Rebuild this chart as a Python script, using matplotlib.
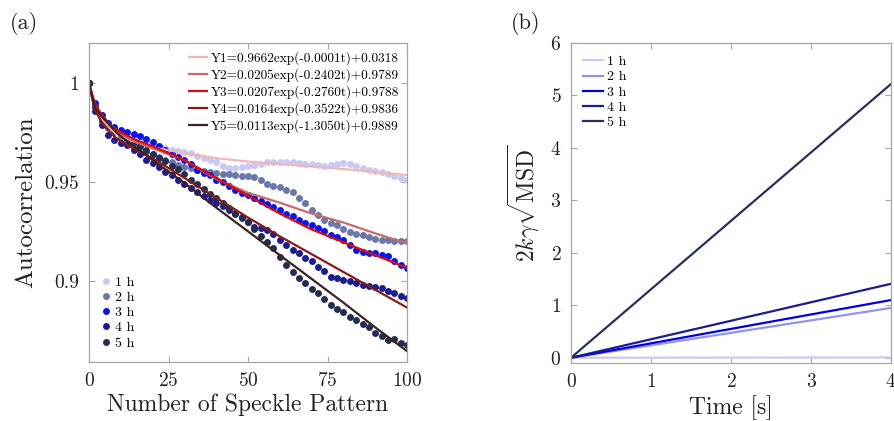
import matplotlib
matplotlib.use("Agg")
import matplotlib.pyplot as plt

# ---- data (a): autocorrelation vs number of speckle pattern ----
frames = list(range(0, 101, 2))

ac_1h = [1.0, 0.990, 0.984, 0.980, 0.977, 0.975, 0.973, 0.972, 0.970, 0.969,
         0.968, 0.9675, 0.967, 0.966, 0.9655, 0.965, 0.9645, 0.963, 0.962, 0.961,
         0.960, 0.958, 0.957, 0.957, 0.9575, 0.958, 0.9585, 0.959, 0.960, 0.960,
         0.9603, 0.960, 0.960, 0.9595, 0.959, 0.959, 0.9585, 0.958, 0.9585, 0.959,
         0.9595, 0.959, 0.958, 0.957, 0.956, 0.9555, 0.955, 0.954, 0.953, 0.952,
         0.951]
ac_2h = [1.0, 0.989, 0.982, 0.978, 0.975, 0.973, 0.971, 0.969, 0.967, 0.965,
         0.964, 0.9625, 0.961, 0.960, 0.9585, 0.9575, 0.957, 0.956, 0.9555, 0.955,
         0.9545, 0.954, 0.9538, 0.9535, 0.953, 0.953, 0.9525, 0.951, 0.949, 0.948,
         0.9475, 0.946, 0.945, 0.942, 0.9395, 0.936, 0.9335, 0.931, 0.9295, 0.928,
         0.926, 0.9245, 0.9235, 0.923, 0.922, 0.921, 0.9205, 0.9205, 0.920, 0.920,
         0.920]
ac_3h = [1.0, 0.990, 0.984, 0.980, 0.978, 0.9765, 0.975, 0.974, 0.973, 0.9715,
         0.970, 0.968, 0.966, 0.964, 0.9625, 0.961, 0.959, 0.956, 0.9545, 0.9535,
         0.951, 0.950, 0.948, 0.946, 0.9445, 0.9435, 0.942, 0.9405, 0.939, 0.9375,
         0.936, 0.934, 0.933, 0.931, 0.9295, 0.928, 0.9265, 0.925, 0.923, 0.922,
         0.9205, 0.918, 0.9155, 0.9148, 0.914, 0.914, 0.913, 0.9125, 0.910, 0.908,
         0.9067]
ac_4h = [1.0, 0.986, 0.979, 0.9737, 0.971, 0.9695, 0.9685, 0.966, 0.964, 0.961,
         0.9594, 0.9578, 0.955, 0.9535, 0.951, 0.949, 0.947, 0.9448, 0.943, 0.941,
         0.9395, 0.938, 0.936, 0.934, 0.9325, 0.930, 0.927, 0.9265, 0.9258, 0.9236,
         0.9207, 0.9182, 0.9155, 0.914, 0.9115, 0.9098, 0.9072, 0.905, 0.9022, 0.9014,
         0.9005, 0.8997, 0.899, 0.898, 0.8975, 0.897, 0.8963, 0.895, 0.8938, 0.8925,
         0.8916]
ac_5h = [1.0, 0.988, 0.981, 0.978, 0.976, 0.974, 0.972, 0.970, 0.968, 0.966,
         0.964, 0.962, 0.9605, 0.958, 0.9565, 0.954, 0.951, 0.949, 0.9465, 0.944,
         0.942, 0.9395, 0.937, 0.9345, 0.932, 0.930, 0.926, 0.9225, 0.9199, 0.9165,
         0.9123, 0.908, 0.9045, 0.9014, 0.8988, 0.8958, 0.894, 0.891, 0.8879, 0.886,
         0.8845, 0.8817, 0.880, 0.878, 0.8766, 0.8739, 0.8719, 0.8702, 0.8706, 0.8685,
         0.8677]

# fitted curves
fit_t = [0, 1, 2, 4, 6, 8, 10, 15, 20, 30, 40, 50, 60, 70, 80, 90, 100]
fit_1 = [1.0, 0.993, 0.988, 0.982, 0.978, 0.975, 0.973, 0.970, 0.9675, 0.9645,
         0.962, 0.9603, 0.959, 0.9578, 0.9565, 0.955, 0.9535]
fit_2 = [1.0, 0.994, 0.989, 0.983, 0.979, 0.976, 0.974, 0.970, 0.967, 0.961,
         0.9515, 0.9445, 0.9395, 0.934, 0.9295, 0.924, 0.919]
fit_3 = [1.0, 0.994, 0.989, 0.984, 0.980, 0.977, 0.975, 0.971, 0.968, 0.961,
         0.952, 0.943, 0.934, 0.926, 0.9195, 0.913, 0.9066]
fit_4 = [1.0, 0.992, 0.986, 0.980, 0.976, 0.973, 0.9705, 0.966, 0.962, 0.952,
         0.942, 0.932, 0.9225, 0.9135, 0.9045, 0.8955, 0.8865]
fit_5 = [1.0, 0.993, 0.987, 0.983, 0.980, 0.976, 0.973, 0.967, 0.961, 0.9495,
         0.937, 0.925, 0.913, 0.901, 0.889, 0.8765, 0.8645]
fit_labels = ["Y1=0.9662exp(-0.0001t)+0.0318",
              "Y2=0.0205exp(-0.2402t)+0.9789",
              "Y3=0.0207exp(-0.2760t)+0.9788",
              "Y4=0.0164exp(-0.3522t)+0.9836",
              "Y5=0.0113exp(-1.3050t)+0.9889"]

hours = ["1 h", "2 h", "3 h", "4 h", "5 h"]

# ---- data (b): 2k*gamma*sqrt(MSD) vs time ----
time_s = [0, 4]
msd_1h = [0, 0.005]
msd_2h = [0, 0.95]
msd_3h = [0, 1.10]
msd_4h = [0, 1.41]
msd_5h = [0, 5.22]

dot_colors = ["#c9c9f4", "#6878a8", "#0a14e8", "#1c1c8e", "#232d52"]
fit_colors = ["#f2b6b6", "#c86a6a", "#dc0a0a", "#8a1a1a", "#3e2222"]
msd_colors = ["#cacaf6", "#9292f2", "#0000e0", "#1c1c90", "#26315a"]

plt.rcParams["font.family"] = "serif"
plt.rcParams["font.serif"] = ["cmr10"]
plt.rcParams["mathtext.fontset"] = "cm"
plt.rcParams["axes.formatter.use_mathtext"] = True

fig = plt.figure(figsize=(8.94, 4.21), dpi=100)
ax1 = fig.add_axes([0.0996, 0.1401, 0.3557, 0.7577])
ax2 = fig.add_axes([0.6387, 0.1378, 0.3580, 0.7600])

for ax in (ax1, ax2):
    for s in ax.spines.values():
        s.set_color("#a6a6a6")
        s.set_linewidth(0.9)
    ax.tick_params(direction="in", top=True, right=True, color="#a6a6a6",
                   labelsize=14, length=4, pad=7, labelcolor="#222222")

# (a)
dots = []
for vals, c, lab in zip([ac_1h, ac_2h, ac_3h, ac_4h, ac_5h], dot_colors, hours):
    h, = ax1.plot(frames, vals, "o", color=c, ms=5, mec="none", label=lab)
    dots.append(h)
fits = []
for vals, c, lab in zip([fit_1, fit_2, fit_3, fit_4, fit_5], fit_colors, fit_labels):
    h, = ax1.plot(fit_t, vals, "-", color=c, lw=1.6, label=lab)
    fits.append(h)

ax1.set_xlim(0, 100)
ax1.set_ylim(0.859, 1.0202)
ax1.set_xticks([0, 25, 50, 75, 100])
ax1.set_yticks([0.9, 0.95, 1.0])
ax1.set_yticklabels(["0.9", "0.95", "1"])
ax1.set_xlabel("Number of Speckle Pattern", fontsize=17, color="#222222", labelpad=3)
ax1.set_ylabel("Autocorrelation", fontsize=18, color="#222222", labelpad=5)

leg_fit = ax1.legend(handles=fits, loc="upper right", fontsize=9.6, frameon=False,
                     handlelength=1.3, handletextpad=0.3, labelspacing=0.25,
                     borderaxespad=0.2)
ax1.add_artist(leg_fit)
ax1.legend(handles=dots, loc="lower left", fontsize=10, frameon=False,
           handlelength=0.6, handletextpad=0.4, labelspacing=0.18,
           borderaxespad=0.5)

# (b)
for vals, c, lab in zip([msd_1h, msd_2h, msd_3h, msd_4h, msd_5h], msd_colors, hours):
    ax2.plot(time_s, vals, "-", color=c, lw=1.6, label=lab)
ax2.set_xlim(0, 4)
ax2.set_ylim(-0.1, 6)
ax2.set_xticks([0, 1, 2, 3, 4])
ax2.set_yticks([0, 1, 2, 3, 4, 5, 6])
ax2.set_xlabel("Time [s]", fontsize=17, color="#222222", labelpad=3)
ax2.set_ylabel(r"$2k\gamma\sqrt{\mathrm{MSD}}$", fontsize=17, color="#222222", labelpad=6)
ax2.legend(loc="upper left", fontsize=10, frameon=False, handlelength=1.4,
           handletextpad=0.3, labelspacing=0.18, borderaxespad=0.5)

fig.text(0.011, 0.93, "(a)", fontsize=16, color="#222222")
fig.text(0.571, 0.93, "(b)", fontsize=16, color="#222222")

fig.savefig("out.png", dpi=100)
